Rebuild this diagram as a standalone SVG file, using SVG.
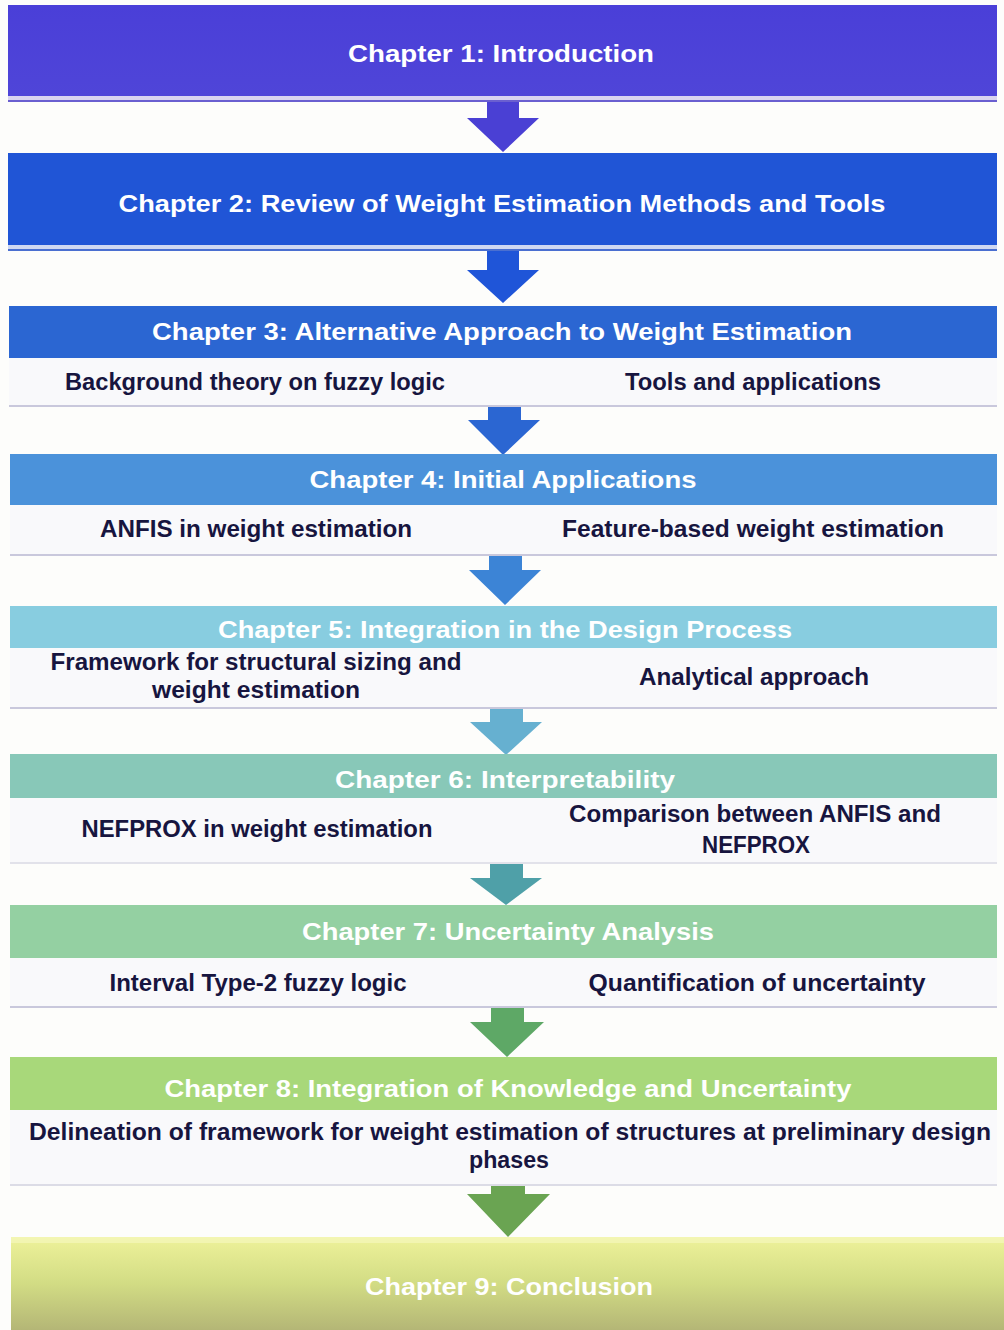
<svg xmlns="http://www.w3.org/2000/svg" width="1004" height="1330" viewBox="0 0 1004 1330">
  <defs>
    <linearGradient id="g9" x1="0" y1="0" x2="0" y2="1">
      <stop offset="0" stop-color="#eef29a"/>
      <stop offset="0.5" stop-color="#d2dc84"/>
      <stop offset="1" stop-color="#b4b676"/>
    </linearGradient>
    <linearGradient id="g1" x1="0" y1="0" x2="0" y2="1">
      <stop offset="0" stop-color="#4a3fd8"/>
      <stop offset="1" stop-color="#4f45d8"/>
    </linearGradient>
  </defs>
  <style>
    .hdr { font-family: "Liberation Sans", Arial, sans-serif; font-weight: bold; font-size: 24px; fill: #ffffff; text-anchor: middle; }
    .sub { font-family: "Liberation Sans", Arial, sans-serif; font-weight: bold; font-size: 23px; fill: #17153f; text-anchor: middle; }
    .row { fill: #f9f9fb; }
    .sep { stroke: #c9c8dc; stroke-width: 2; }
    .strip { fill: #d9d4f0; }
  </style>
  <rect x="0" y="0" width="1004" height="1330" fill="#fdfdfb"/>

  <g id="connectors">
    <polygon fill="#4a40d4" points="487,96 519,96 519,118 539,118 503,152 467,118 487,118"/>
    <polygon fill="#1f55d8" points="487,250 519,250 519,270 539,270 503,303 467,270 487,270"/>
    <polygon fill="#2b66d2" points="488,405 521,405 521,420 540,420 503,455 468,420 488,420"/>
    <polygon fill="#3c84d6" points="489,553 522,553 522,570 541,570 505,605 469,570 489,570"/>
    <polygon fill="#66b0d0" points="490,708 523,708 523,722 542,722 506,755 470,722 490,722"/>
    <polygon fill="#4fa0a8" points="490,862 523,862 523,878 542,878 506,905 470,878 490,878"/>
    <polygon fill="#5ea866" points="491,1007 524,1007 524,1022 544,1022 507,1057 470,1022 491,1022"/>
    <polygon fill="#6aa452" points="491,1185 525,1185 525,1194 550,1194 508,1237 467,1194 491,1194"/>
  </g>

  <g id="ch1">
    <rect x="8" y="5" width="989" height="91" fill="url(#g1)"/>
    <rect class="strip" x="8" y="96" width="989" height="4"/>
    <line x1="8" y1="101" x2="997" y2="101" stroke="#6a5fd0" stroke-width="2"/>
    <text class="hdr" x="501" y="62" textLength="306" lengthAdjust="spacingAndGlyphs">Chapter 1: Introduction</text>
  </g>

  <g id="ch2">
    <rect x="8" y="153" width="989" height="92" fill="#2055d6"/>
    <rect x="8" y="245" width="989" height="4" fill="#cfd8f2"/>
    <line x1="8" y1="250" x2="997" y2="250" stroke="#4a6fd0" stroke-width="2"/>
    <text class="hdr" x="502" y="212" textLength="767" lengthAdjust="spacingAndGlyphs">Chapter 2: Review of Weight Estimation Methods and Tools</text>
  </g>

  <g id="ch3">
    <rect x="9" y="306" width="988" height="52" fill="#2b66d2"/>
    <rect class="row" x="9" y="358" width="988" height="47"/>
    <line class="sep" x1="9" y1="406" x2="997" y2="406"/>
    <text class="hdr" x="502" y="340" textLength="700" lengthAdjust="spacingAndGlyphs">Chapter 3: Alternative Approach to Weight Estimation</text>
    <text class="sub" x="255" y="390" textLength="380" lengthAdjust="spacingAndGlyphs">Background theory on fuzzy logic</text>
    <text class="sub" x="753" y="390" textLength="256" lengthAdjust="spacingAndGlyphs">Tools and applications</text>
  </g>

  <g id="ch4">
    <rect x="10" y="454" width="987" height="51" fill="#4b92da"/>
    <rect class="row" x="10" y="505" width="987" height="49"/>
    <line class="sep" x1="10" y1="555" x2="997" y2="555"/>
    <text class="hdr" x="503" y="488" textLength="387" lengthAdjust="spacingAndGlyphs">Chapter 4: Initial Applications</text>
    <text class="sub" x="256" y="537" textLength="312" lengthAdjust="spacingAndGlyphs">ANFIS in weight estimation</text>
    <text class="sub" x="753" y="537" textLength="382" lengthAdjust="spacingAndGlyphs">Feature-based weight estimation</text>
  </g>

  <g id="ch5">
    <rect x="10" y="606" width="987" height="42" fill="#88cde0"/>
    <rect class="row" x="10" y="648" width="987" height="59"/>
    <line class="sep" x1="10" y1="708" x2="997" y2="708"/>
    <text class="hdr" x="505" y="638" textLength="574" lengthAdjust="spacingAndGlyphs">Chapter 5:  Integration in the Design Process</text>
    <text class="sub" x="256" y="670" textLength="411" lengthAdjust="spacingAndGlyphs">Framework for structural sizing and</text>
    <text class="sub" x="256" y="698" textLength="208" lengthAdjust="spacingAndGlyphs">weight estimation</text>
    <text class="sub" x="754" y="685" textLength="230" lengthAdjust="spacingAndGlyphs">Analytical approach</text>
  </g>

  <g id="ch6">
    <rect x="10" y="754" width="987" height="44" fill="#88c8b8"/>
    <rect class="row" x="10" y="798" width="987" height="64"/>
    <line x1="10" y1="863" x2="997" y2="863" stroke="#e2e2ea" stroke-width="2"/>
    <text class="hdr" x="505" y="788" textLength="340" lengthAdjust="spacingAndGlyphs">Chapter 6: Interpretability</text>
    <text class="sub" x="257" y="837" textLength="351" lengthAdjust="spacingAndGlyphs">NEFPROX in weight estimation</text>
    <text class="sub" x="755" y="822" textLength="372" lengthAdjust="spacingAndGlyphs">Comparison between ANFIS and</text>
    <text class="sub" x="756" y="853" textLength="108" lengthAdjust="spacingAndGlyphs">NEFPROX</text>
  </g>

  <g id="ch7">
    <rect x="10" y="905" width="987" height="53" fill="#94d0a2"/>
    <rect class="row" x="10" y="958" width="987" height="48"/>
    <line class="sep" x1="10" y1="1007" x2="997" y2="1007"/>
    <text class="hdr" x="508" y="940" textLength="412" lengthAdjust="spacingAndGlyphs">Chapter 7: Uncertainty Analysis</text>
    <text class="sub" x="258" y="991" textLength="297" lengthAdjust="spacingAndGlyphs">Interval Type-2 fuzzy logic</text>
    <text class="sub" x="757" y="991" textLength="337" lengthAdjust="spacingAndGlyphs">Quantification of uncertainty</text>
  </g>

  <g id="ch8">
    <rect x="10" y="1057" width="987" height="53" fill="#a8d87a"/>
    <rect class="row" x="10" y="1110" width="987" height="74"/>
    <line x1="10" y1="1185" x2="997" y2="1185" stroke="#dcdce6" stroke-width="2"/>
    <text class="hdr" x="508" y="1097" textLength="687" lengthAdjust="spacingAndGlyphs">Chapter 8: Integration of Knowledge and Uncertainty</text>
    <text class="sub" x="510" y="1140" textLength="962" lengthAdjust="spacingAndGlyphs">Delineation of framework for weight estimation of structures at preliminary design</text>
    <text class="sub" x="509" y="1168" textLength="80" lengthAdjust="spacingAndGlyphs">phases</text>
  </g>

  <g id="ch9">
    <rect x="11" y="1237" width="993" height="93" fill="url(#g9)"/>
    <rect x="11" y="1237" width="993" height="6" fill="#f4f6b8" opacity="0.8"/>
    <text class="hdr" x="509" y="1295" textLength="288" lengthAdjust="spacingAndGlyphs">Chapter 9: Conclusion</text>
  </g>
</svg>
